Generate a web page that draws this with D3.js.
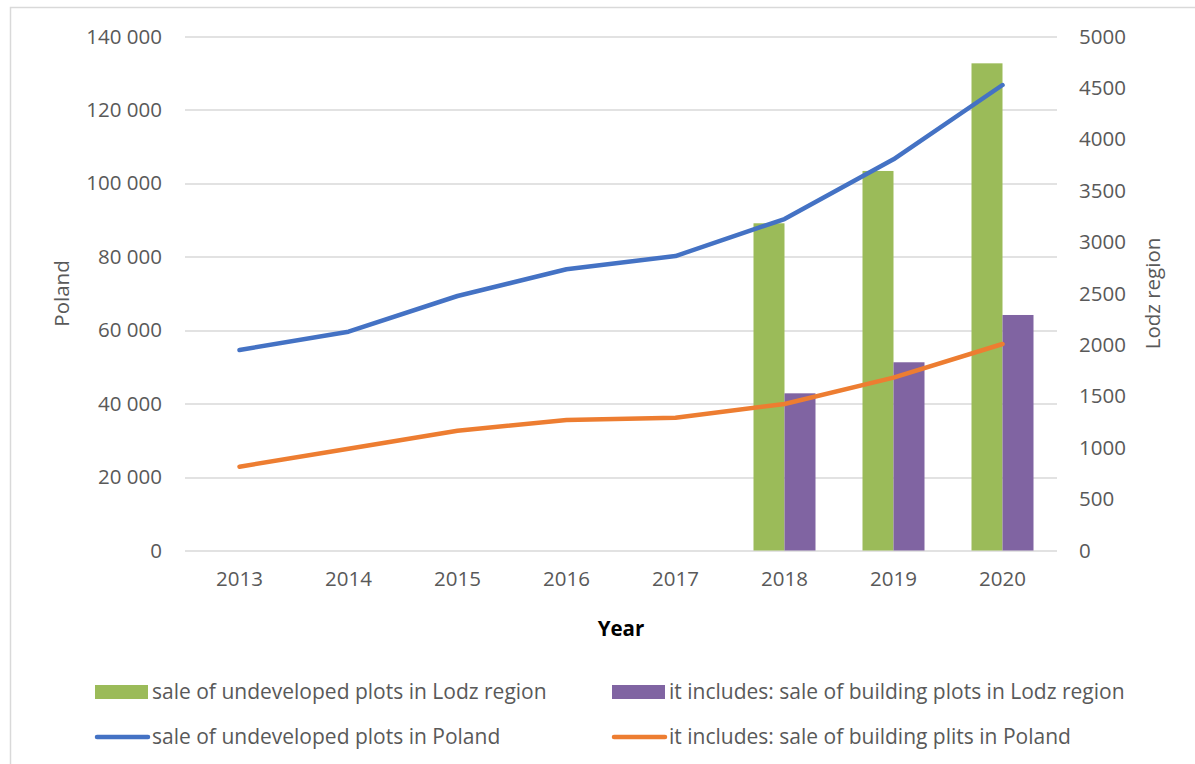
<!DOCTYPE html>
<html>
<head>
<meta charset="utf-8">
<script src="https://cdn.jsdelivr.net/npm/d3@7"></script>
<style>
  body { margin: 0; background: #fff; }
  svg { display: block; font-family: "Open Sans", Lato, sans-serif; }
</style>
</head>
<body>
<svg id="chart" width="1195" height="764"></svg>
<script>
// data
var years = ["2013", "2014", "2015", "2016", "2017", "2018", "2019", "2020"];
var lodzUndeveloped = [null, null, null, null, null, 3183, 3692, 4739];
var lodzBuilding = [null, null, null, null, null, 1529, 1831, 2291];
var polandUndeveloped = [54610, 59600, 69320, 76590, 80210, 90290, 106550, 126790];
var polandBuilding = [22830, 27730, 32630, 35550, 36180, 39900, 47070, 56250];
var leftTicks = [0, 20000, 40000, 60000, 80000, 100000, 120000, 140000];
var rightTicks = [0, 500, 1000, 1500, 2000, 2500, 3000, 3500, 4000, 4500, 5000];

var legendItems = [
    { label: "sale of undeveloped plots in Lodz region", color: "#9BBB59", type: "bar" },
    { label: "it includes: sale of building plots in Lodz region", color: "#8064A2", type: "bar" },
    { label: "sale of undeveloped plots in Poland", color: "#4472C4", type: "line" },
    { label: "it includes: sale of building plits in Poland", color: "#ED7D31", type: "line" }
];

var svg = d3.select("#chart"),
    margin = { top: 36.5, right: 138, bottom: 213.5, left: 185 },
    width = 1195 - margin.left - margin.right,
    height = 764 - margin.top - margin.bottom;

var textColor = "#595959", gridColor = "#d9d9d9";

// chart area border
svg.append("rect")
    .attr("x", 10.5).attr("y", 7.5)
    .attr("width", 1200).attr("height", 800)
    .attr("fill", "none").attr("stroke", gridColor).attr("stroke-width", 1.5);

var g = svg.append("g").attr("transform", "translate(" + margin.left + "," + margin.top + ")");

var x = d3.scaleBand().domain(years).range([0, width]).paddingInner(0);
var xs = d3.scaleBand().domain([0, 1]).range([0, x.bandwidth()]).paddingInner(0).paddingOuter(0.758);
var yL = d3.scaleLinear().domain([0, 140000]).range([height, 0]);
var yR = d3.scaleLinear().domain([0, 5000]).range([height, 0]);

// gridlines
g.selectAll(".grid")
    .data(leftTicks).enter()
    .append("line")
    .attr("x1", 0).attr("x2", width)
    .attr("y1", function (d) { return Math.round(yL(d)) + 0.5; })
    .attr("y2", function (d) { return Math.round(yL(d)) + 0.5; })
    .attr("stroke", gridColor).attr("stroke-width", 1.5);

// left axis
var leftAxis = g.append("g")
    .call(d3.axisLeft(yL).tickValues(leftTicks).tickSize(0).tickPadding(23)
        .tickFormat(function (d) { return d3.format(",")(d).replace(/,/g, " "); }));
leftAxis.select(".domain").remove();
leftAxis.selectAll("text").attr("fill", textColor).style("font-size", "20.5px").style("font-family", "Open Sans");

// right axis
var rightAxis = g.append("g")
    .attr("transform", "translate(" + width + ",0)")
    .call(d3.axisRight(yR).tickValues(rightTicks).tickSize(0).tickPadding(22).tickFormat(d3.format("d")));
rightAxis.select(".domain").remove();
rightAxis.selectAll("text").attr("fill", textColor).style("font-size", "20.5px").style("font-family", "Open Sans");

// x axis
var xAxis = g.append("g")
    .attr("transform", "translate(0," + height + ")")
    .call(d3.axisBottom(x).tickSize(0).tickPadding(21));
xAxis.select(".domain").remove();
xAxis.selectAll("text").attr("fill", textColor).style("font-size", "20.5px").style("font-family", "Open Sans");

// bars (right axis)
var barSeries = [lodzUndeveloped, lodzBuilding];
barSeries.forEach(function (series, s) {
    g.selectAll(".bar" + s)
        .data(years.map(function (yr, i) { return { year: yr, value: series[i] }; })
            .filter(function (d) { return d.value != null; }))
        .enter()
        .append("rect")
        .attr("x", function (d) { return x(d.year) + xs(s); })
        .attr("width", xs.bandwidth())
        .attr("y", function (d) { return yR(d.value); })
        .attr("height", function (d) { return height - yR(d.value); })
        .attr("fill", legendItems[s].color);
});

// lines (left axis)
var line = d3.line()
    .x(function (d, i) { return x(years[i]) + x.bandwidth() / 2; })
    .y(function (d) { return yL(d); });

[polandUndeveloped, polandBuilding].forEach(function (series, s) {
    g.append("path")
        .datum(series)
        .attr("d", line)
        .attr("fill", "none")
        .attr("stroke", legendItems[s + 2].color)
        .attr("stroke-width", 4.5)
        .attr("stroke-linecap", "round")
        .attr("stroke-linejoin", "round");
});

// axis titles
svg.append("text")
    .attr("transform", "translate(69," + (margin.top + height / 2) + ") rotate(-90)")
    .attr("text-anchor", "middle")
    .attr("fill", textColor)
    .style("font-size", "20.5px")
    .text("Poland");

svg.append("text")
    .attr("transform", "translate(1160," + (margin.top + height / 2) + ") rotate(-90)")
    .attr("text-anchor", "middle")
    .attr("fill", textColor)
    .style("font-size", "20.5px")
    .text("Lodz region");

svg.append("text")
    .attr("x", margin.left + width / 2)
    .attr("y", 636)
    .attr("text-anchor", "middle")
    .attr("fill", "#000")
    .style("font-size", "20.5px")
    .style("font-weight", "bold")
    .text("Year");

// legend
var legendPos = [[95, 692], [612, 692], [95, 737], [612, 737]];
legendItems.forEach(function (item, i) {
    var lg = svg.append("g").attr("transform", "translate(" + legendPos[i][0] + "," + legendPos[i][1] + ")");
    if (item.type == "bar") {
        lg.append("rect").attr("x", 0).attr("y", -7).attr("width", 53).attr("height", 14).attr("fill", item.color);
    } else {
        lg.append("line").attr("x1", 2).attr("x2", 53).attr("y1", 0).attr("y2", 0)
            .attr("stroke", item.color).attr("stroke-width", 4.5).attr("stroke-linecap", "round");
    }
    lg.append("text")
        .attr("x", 57).attr("y", 0).attr("dy", "0.35em")
        .attr("fill", textColor)
        .style("font-size", "21px")
        .text(item.label);
});
</script>
</body>
</html>
